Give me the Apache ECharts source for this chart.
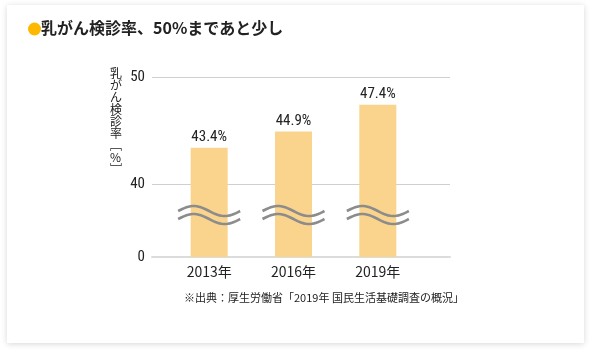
<!DOCTYPE html>
<html>
<head>
<meta charset="utf-8">
<style>
  html, body { margin: 0; padding: 0; background: #fff; }
  #chart { width: 592px; height: 354px; }
</style>
<script src="https://cdn.jsdelivr.net/npm/echarts@6/dist/echarts.min.js"></script>
</head>
<body>
<div id="chart"></div>
<script>
// data
const years = ['2013年', '2016年', '2019年']
const rates = [43.4, 44.9, 47.4]
const yTicks = [0, 40, 50]
const breakValue = 23 // where the wavy "break" marks sit

// broken axis: 0..40 squeezed, 40..50 full scale
const BREAK_AT = 40
const LOWER_SPAN = 6.82
function toAxis (v) {
  return v >= BREAK_AT ? v - BREAK_AT + LOWER_SPAN : v / BREAK_AT * LOWER_SPAN
}
const axisTicks = yTicks.map(toAxis)
const axisMax = toAxis(yTicks[yTicks.length - 1])

const narrow = '"Roboto Condensed", "Liberation Sans Narrow", "DejaVu Sans Condensed", "Arial Narrow", "Roboto", sans-serif'
const jp = '"Noto Sans CJK JP", "Noto Sans", sans-serif'

function tickLabel (v) {
  for (let i = 0; i < axisTicks.length; i++) {
    if (Math.abs(axisTicks[i] - v) < 1e-6) return String(yTicks[i])
  }
  return ''
}

// wavy break mark over each bar
function renderWave (params, api) {
  const c = api.coord([api.value(0), api.value(1)])
  const L = 62, A = 5, gap = 8
  const lines = []
  for (let k = 0; k < 2; k++) {
    const pts = []
    for (let i = 0; i <= 30; i++) {
      const t = i / 30
      pts.push([c[0] - L / 2 + t * L, c[1] - gap / 2 + k * gap - A * Math.sin(t * Math.PI * 2)])
    }
    lines.push({
      type: 'polyline',
      shape: { points: pts },
      style: { stroke: '#8c8c8c', lineWidth: 2.6, fill: null }
    })
  }
  return { type: 'group', children: lines }
}

const chart = echarts.init(document.getElementById('chart'))
const option = {
  backgroundColor: '#fff',
  animation: false,
  graphic: [
    {
      type: 'rect', z: -100,
      shape: { x: 7, y: 5, width: 577, height: 338 },
      style: { fill: '#fff', shadowBlur: 6, shadowColor: 'rgba(0,0,0,0.16)', shadowOffsetY: 1 }
    },
    {
      type: 'circle', z: 100,
      shape: { cx: 34.5, cy: 29, r: 6.5 },
      style: { fill: '#ffb800' }
    },
    {
      type: 'text', z: 100, left: 41, top: 20,
      style: { text: '乳がん検診率、50%まであと少し', font: 'bold 16px ' + jp, fill: '#222' }
    },
    {
      type: 'text', z: 100, left: 110, top: 67,
      style: {
        text: '乳\nが\nん\n検\n診\n率\n﹇\n%\n﹈',
        font: '12px ' + jp, lineHeight: 12, fill: '#222'
      }
    },
    {
      type: 'text', z: 100, left: 184, top: 292,
      style: { text: '※出典：厚生労働省「2019年 国民生活基礎調査の概況」', font: '11px ' + jp, fill: '#222' }
    }
  ],
  grid: [
    { left: 152, right: 142, top: 77, bottom: 97 },
    { left: 167, right: 172, top: 77, bottom: 97 }
  ],
  xAxis: [
    {
      gridIndex: 0, type: 'category', data: years,
      axisLine: { show: true, lineStyle: { color: '#dcdcdc', width: 2 } },
      axisTick: { show: false }, axisLabel: { show: false }
    },
    {
      gridIndex: 1, type: 'category', data: years,
      axisLine: { show: false }, axisTick: { show: false },
      axisLabel: { color: '#222', fontSize: 14, fontFamily: jp, margin: 8 }
    }
  ],
  yAxis: [
    {
      gridIndex: 0, type: 'value', min: 0, max: axisMax,
      axisLine: { show: false },
      axisTick: { show: false, customValues: axisTicks },
      axisLabel: {
        customValues: axisTicks, formatter: tickLabel,
        color: '#222', fontSize: 15, fontFamily: narrow, margin: 7
      },
      splitLine: { lineStyle: { color: '#cfcfcf', width: 1 } }
    },
    {
      gridIndex: 1, type: 'value', min: 0, max: axisMax,
      axisLine: { show: false }, axisTick: { show: false },
      axisLabel: { show: false }, splitLine: { show: false }
    }
  ],
  series: [
    {
      type: 'bar', xAxisIndex: 1, yAxisIndex: 1,
      barWidth: 37,
      itemStyle: { color: '#fad48c' },
      data: rates.map(r => ({ value: toAxis(r), raw: r })),
      label: {
        show: true, position: 'top', distance: 3,
        formatter: p => p.data.raw + '%',
        color: '#222', fontSize: 15, fontFamily: narrow
      }
    },
    {
      type: 'custom', xAxisIndex: 1, yAxisIndex: 1,
      renderItem: renderWave, z: 5,
      data: years.map((y, i) => [i, toAxis(breakValue)])
    }
  ]
}
chart.setOption(option)
</script>
</body>
</html>
